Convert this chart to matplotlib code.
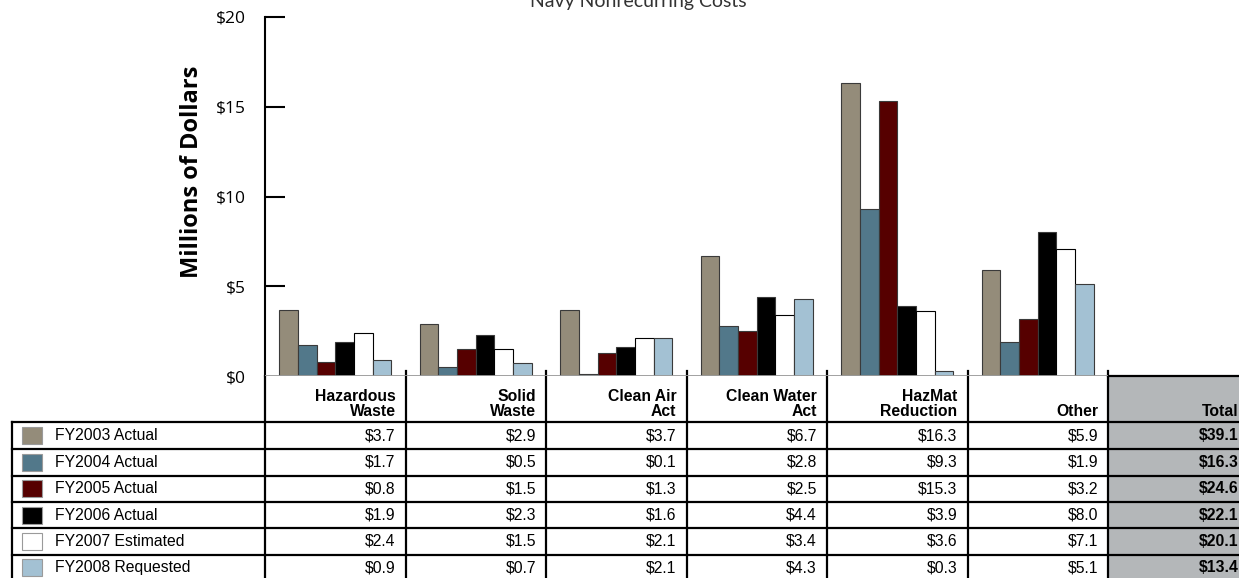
import matplotlib
matplotlib.use("Agg")
import matplotlib.pyplot as plt
from matplotlib.patches import Rectangle

categories = ["Hazardous\nWaste", "Solid\nWaste", "Clean Air\nAct", "Clean Water\nAct", "HazMat\nReduction", "Other"]
series = ["FY2003 Actual", "FY2004 Actual", "FY2005 Actual", "FY2006 Actual", "FY2007 Estimated", "FY2008 Requested"]
colors = ["#948c7a", "#52788a", "#560000", "#000000", "#ffffff", "#a3c1d3"]
fy2003 = [3.7, 2.9, 3.7, 6.7, 16.3, 5.9]
fy2004 = [1.7, 0.5, 0.1, 2.8, 9.3, 1.9]
fy2005 = [0.8, 1.5, 1.3, 2.5, 15.3, 3.2]
fy2006 = [1.9, 2.3, 1.6, 4.4, 3.9, 8.0]
fy2007 = [2.4, 1.5, 2.1, 3.4, 3.6, 7.1]
fy2008 = [0.9, 0.7, 2.1, 4.3, 0.3, 5.1]
totals = [39.1, 16.3, 24.6, 22.1, 20.1, 13.4]
values = [fy2003, fy2004, fy2005, fy2006, fy2007, fy2008]
yticks = [0, 5, 10, 15, 20]

W, H = 1239, 578
fig = plt.figure(figsize=(W / 100, H / 100), dpi=100)

# overlay in pixel coords for the table
ov = fig.add_axes([0, 0, 1, 1], zorder=0)
ov.set_xlim(0, W)
ov.set_ylim(H, 0)
ov.axis("off")

x_left, x_right, y_top, y_base = 265, 1108, 17, 376
colw = (x_right - x_left) / 6
ax = fig.add_axes([x_left / W, 1 - y_base / H, (x_right - x_left) / W, (y_base - y_top) / H], zorder=1)
ax.patch.set_alpha(0)

bw = 0.8 / 6
for i, (s, c, v) in enumerate(zip(series, colors, values)):
    xs = [g + 0.1 + (i + 0.5) * bw for g in range(6)]
    ec = "#000000" if c == "#ffffff" else "#3a3a3a"
    ax.bar(xs, v, width=bw, color=c, edgecolor=ec, linewidth=0.8, zorder=2)

ax.set_xlim(0, 6)
ax.set_ylim(0, 20)
ax.axhline(0, color="#9a9a9a", lw=1.3, zorder=3)
for sp in ["top", "right", "bottom"]:
    ax.spines[sp].set_visible(False)
ax.spines["left"].set_linewidth(1.5)
ax.set_xticks([])
ax.set_yticks(yticks)
ax.set_yticklabels(["$%d" % t for t in yticks], fontfamily="Open Sans", fontsize=12.5)
ax.tick_params(axis="y", direction="in", length=14.5, width=1.5, pad=14)
ax.yaxis.get_major_ticks()[0].tick1line.set_visible(False)

fig.text(192 / W, 1 - 172 / H, "Millions of Dollars", rotation=90, ha="center", va="center",
         fontfamily="Open Sans", fontweight="bold", fontsize=17)
fig.text(638 / W, 1 - 7 / H, "Navy Nonrecurring Costs", ha="center", va="baseline",
         fontfamily="Lato", fontweight="normal", fontsize=14, color="#333333")

# table
row_y = [422, 449, 475.5, 502, 528, 554.5, 581]
ov.add_patch(Rectangle((x_right, y_base), W - x_right, H - y_base, facecolor="#b4b7b9", edgecolor="none"))
ov.plot([x_right, W], [y_base, y_base], color="black", lw=1.6)
for y in row_y[:-1]:
    ov.plot([12, W], [y, y], color="black", lw=1.6)
ov.plot([12, 12], [row_y[0], H], color="black", lw=1.6)
ov.plot([x_left, x_left], [y_base, H], color="black", lw=1.6)
for k in range(1, 7):
    xb = x_left + k * colw
    ov.plot([xb, xb], [371, H], color="black", lw=1.6)

tf = "Liberation Sans"
fs = 11.3
for k, cat in enumerate(categories + ["Total"]):
    xr = x_left + (k + 1) * colw - 10
    ov.text(xr, 416, cat, ha="right", va="baseline", fontfamily=tf, fontweight="bold",
            fontsize=fs, linespacing=1.0)

for r, (s, c, v) in enumerate(zip(series, colors, values)):
    yc = (row_y[r] + row_y[r + 1]) / 2
    ov.add_patch(Rectangle((22, yc - 8.5), 20, 17, facecolor=c, edgecolor="#9a9a9a", lw=0.8))
    ov.text(55, yc, s, ha="left", va="center", fontfamily=tf, fontsize=fs)
    for k, val in enumerate(v):
        xr = x_left + (k + 1) * colw - 10
        ov.text(xr, yc, "$%.1f" % val, ha="right", va="center", fontfamily=tf, fontsize=fs)
    ov.text(x_left + 7 * colw - 10, yc, "$%.1f" % totals[r], ha="right", va="center",
            fontfamily=tf, fontsize=fs, fontweight="bold")

fig.savefig("out.png", dpi=100)
